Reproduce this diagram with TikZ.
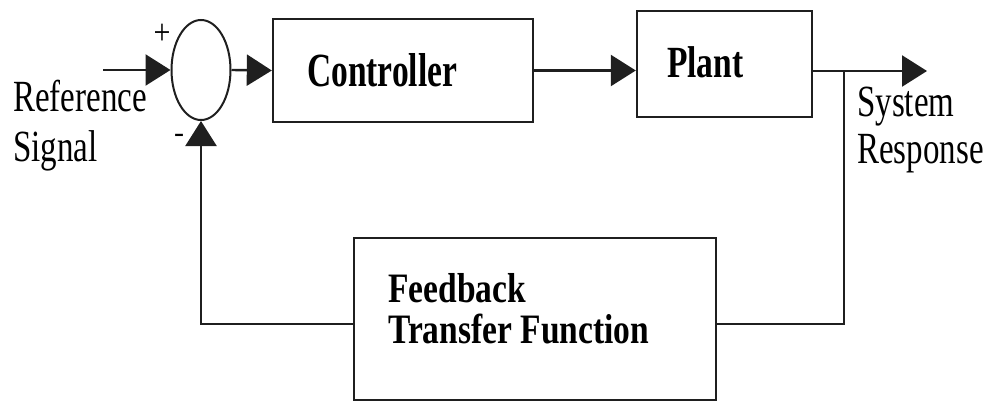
\documentclass[tikz,border=0pt]{standalone}
\usepackage{fontspec}
\setmainfont{Liberation Serif}
\usetikzlibrary{arrows.meta,shapes.geometric}
\newcommand{\vstretch}[2]{\scalebox{1}[#1]{#2}}
\begin{document}
\begin{tikzpicture}[x=1pt,y=-1pt,
  line/.style={line width=2.4pt, draw=black!88},
  arr/.style={line, -{Triangle[length=25pt,width=31pt]}},
  blk/.style={line, rectangle, inner sep=0pt},
  lbl/.style={inner sep=0pt, anchor=base west, font=\fontsize{33}{37}\selectfont},
  blbl/.style={inner sep=0pt, anchor=base west, font=\fontsize{33.5}{37}\selectfont\bfseries}]
\useasboundingbox (0,0) rectangle (987,402);
% blocks
\node[line, line width=2pt, ellipse, minimum width=59pt, minimum height=100pt, inner sep=0pt] (sum) at (201,70) {};
\node[blk, minimum width=260pt, minimum height=103pt] (ctrl) at (403,70.5) {};
\node[blk, minimum width=175pt, minimum height=106pt] (plant) at (724.5,64) {};
\node[blk, minimum width=362pt, minimum height=162pt] (fb) at (535,319) {};
% texts
\node[blbl] (ctrlt) at (307,86) {\vstretch{1.42}{Controller}};
\node[blbl] (plantt) at (667,77) {\vstretch{1.33}{Plant}};
\node[blbl] (fbt1) at (388,302) {\vstretch{1.25}{Feedback}};
\node[blbl] (fbt2) at (388,343) {\vstretch{1.25}{Transfer Function}};
\node[lbl] (ref1) at (13,111) {\vstretch{1.35}{Reference}};
\node[lbl] (ref2) at (13,161) {\vstretch{1.35}{Signal}};
\node[lbl] (sys1) at (857,116) {\vstretch{1.35}{System}};
\node[lbl] (sys2) at (857,163) {\vstretch{1.35}{Response}};
\node[inner sep=0pt, font=\fontsize{30}{30}\selectfont] (plus) at (162,34) {\vstretch{1.2}{+}};
\node[inner sep=0pt, font=\fontsize{30}{30}\selectfont] (minus) at (179,138) {-};
% connectors
\coordinate (in) at (103,70);
\coordinate (out) at (927,71);
\coordinate (br) at (844,71);
\coordinate (bb) at (844,324);
\draw[arr] (in) -- (sum.west);
\draw[arr] (sum.east) -- (ctrl.west);
\draw[arr] (ctrl.east) -- (ctrl.east -| plant.west);
\draw[arr] (plant.east |- out) -- (out);
\draw[line] (br) -- (bb) -- (bb -| fb.east);
\draw[arr] (bb -| fb.west) -- (sum.south |- bb) -- (sum.south);
\end{tikzpicture}
\end{document}
